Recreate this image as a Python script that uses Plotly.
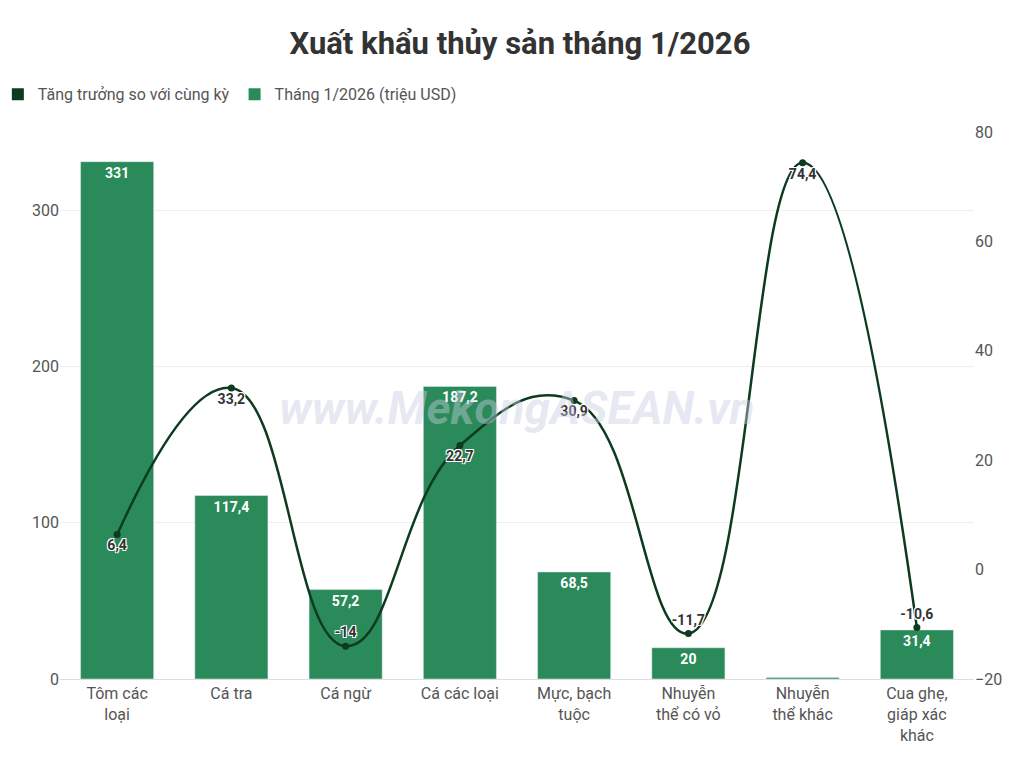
import plotly.graph_objects as go

categories = ["Tôm các<br>loại", "Cá tra", "Cá ngừ", "Cá các loại", "Mực, bạch<br>tuộc",
              "Nhuyễn<br>thể có vỏ", "Nhuyễn<br>thể khác", "Cua ghẹ,<br>giáp xác<br>khác"]
export_value = [331, 117.4, 57.2, 187.2, 68.5, 20, 1, 31.4]
bar_labels = ["331", "117,4", "57,2", "187,2", "68,5", "20", "", "31,4"]
growth = [6.4, 33.2, -14, 22.7, 30.9, -11.7, 74.4, -10.6]
growth_labels = ["6,4", "33,2", "-14", "22,7", "30,9", "-11,7", "74,4", "-10,6"]
growth_pos = ["bottom center", "bottom center", "top center", "bottom center",
              "bottom center", "top center", "bottom center", "top center"]

bar_color = "#2b8a5a"
line_color = "#0c3b1f"
font = "Roboto"

fig = go.Figure()
fig.add_trace(go.Bar(
    x=categories, y=export_value, marker_color=bar_color, width=0.64,
    text=["<b>%s</b>" % t if t else "" for t in bar_labels],
    textposition="inside", insidetextanchor="end",
    textfont=dict(color="white", size=14, family=font), showlegend=False,
    hoverinfo="y",
))
fig.add_trace(go.Scatter(
    x=categories, y=growth, yaxis="y2", mode="lines+markers+text",
    line=dict(color=line_color, width=2.5, shape="spline", smoothing=1.3),
    marker=dict(color=line_color, size=7),
    text=["<b>%s</b>" % t for t in growth_labels], textposition=growth_pos,
    textfont=dict(color="#333", size=14, family=font,
                  shadow="1px 1px 0 white, -1px -1px 0 white, 1px -1px 0 white, -1px 1px 0 white"),
    showlegend=False,
))
# legend entries as squares
fig.add_trace(go.Scatter(x=[None], y=[None], mode="markers", name="Tăng trưởng so với cùng kỳ",
                         marker=dict(symbol="square", size=12, color=line_color)))
fig.add_trace(go.Scatter(x=[None], y=[None], mode="markers", name="Tháng 1/2026 (triệu USD)",
                         marker=dict(symbol="square", size=12, color=bar_color)))

fig.add_annotation(text="<b><i>www.MekongASEAN.vn</i></b>", xref="paper", yref="paper",
                   x=0.5, y=0.495, showarrow=False,
                   font=dict(size=46, color="rgba(200,205,225,0.45)", family=font))

fig.update_layout(
    width=1024, height=769, plot_bgcolor="white", paper_bgcolor="white",
    margin=dict(l=52, r=58, t=124, b=98, autoexpand=False),
    title=dict(text="<b>Xuất khẩu thủy sản tháng 1/2026</b>", x=0.5, y=0.968,
               font=dict(size=31, color="#333", family=font)),
    font=dict(family=font, size=16, color="#444"),
    legend=dict(orientation="h", x=-0.068, y=1.10, xanchor="left", font=dict(size=16, color="#555"),
                itemsizing="constant", traceorder="normal"),
    xaxis=dict(tickfont=dict(size=16, color="#555"), showline=True, linecolor="#ddd",
               automargin=False),
    yaxis=dict(range=[0, 350], tickvals=[0, 100, 200, 300], gridcolor="#eee",
               tickfont=dict(size=16, color="#555"), zeroline=False, automargin=False),
    yaxis2=dict(range=[-20, 80], overlaying="y", side="right", dtick=20, showgrid=False,
                tickfont=dict(size=16, color="#555"), zeroline=False, automargin=False),
    bargap=0.35,
)
fig.write_html("out.html")
